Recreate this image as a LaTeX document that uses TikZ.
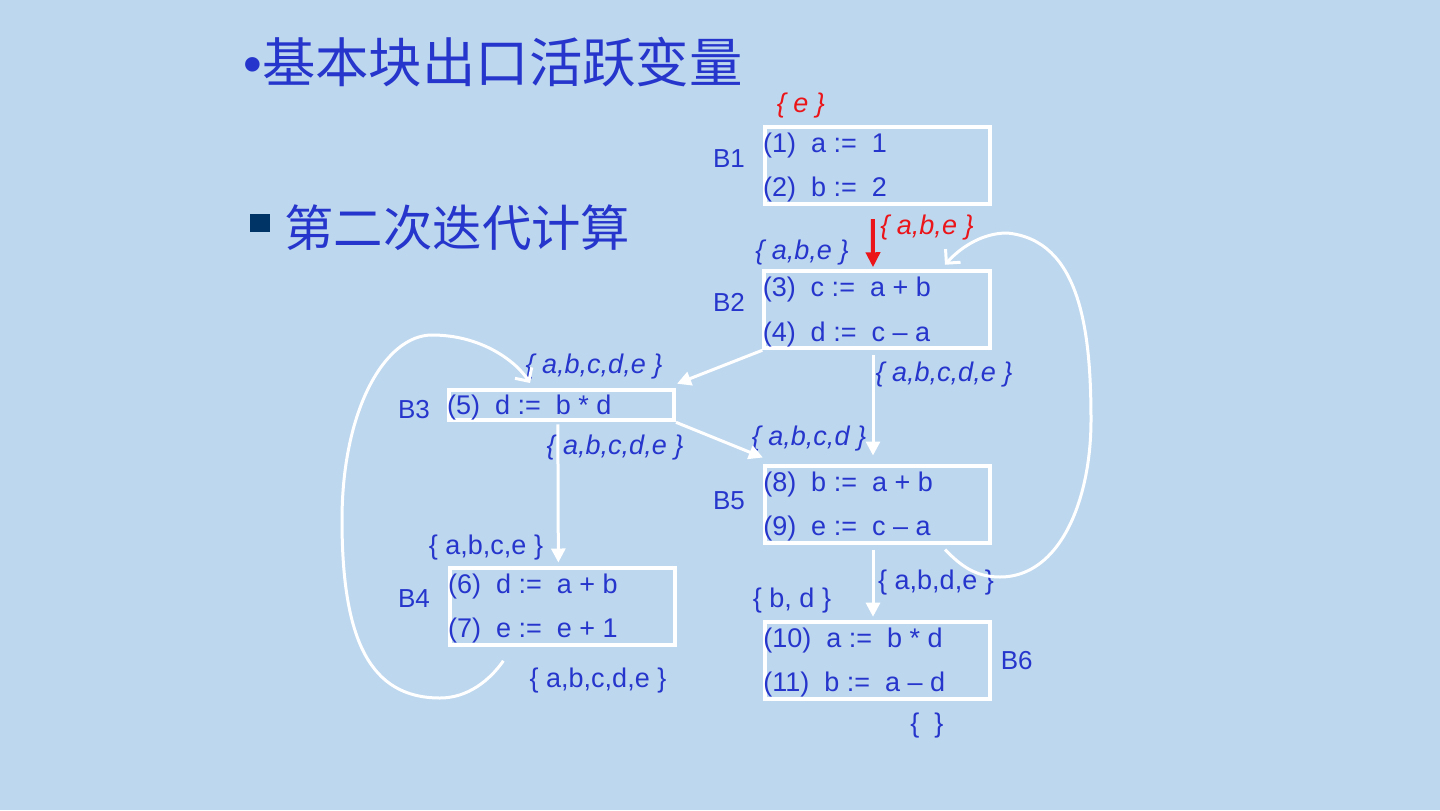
\documentclass[tikz,border=0pt]{standalone}
\usepackage{fontspec}
\setmainfont{Liberation Sans}
\newfontfamily\cjk{Noto Sans CJK SC}
\usetikzlibrary{arrows.meta,calc}

\definecolor{bgblue}{RGB}{189,215,238}
\definecolor{inkblue}{RGB}{38,54,204}
\definecolor{hotred}{RGB}{235,20,25}
\definecolor{navy}{RGB}{0,51,102}

\tikzset{
  blk/.style={draw=white, line width=2pt, minimum width=112.65pt, minimum height=38.5pt, inner sep=0pt},
  stmt/.style={anchor=base west, inner sep=0pt, text=inkblue, font=\fontsize{13.5}{16}\selectfont},
  lbl/.style={inner sep=0pt, text=inkblue, font=\fontsize{13}{15}\selectfont},
  lv/.style={inner sep=0pt, text=inkblue, font=\fontsize{13.5}{16}\selectfont},
  lvi/.style={lv, font=\fontsize{13.5}{16}\selectfont\itshape},
  flow/.style={white, line width=1.5pt, -{Triangle[length=7pt,width=7pt]}},
  back/.style={white, line width=1.5pt, -{Straight Barb[length=5pt,width=10pt]}},
}

\begin{document}
\begin{tikzpicture}[x=0.5pt,y=-0.5pt]
\fill[bgblue] (0,0) rectangle (1440,810);

% headings
\node[anchor=west, inner sep=0pt, text=inkblue, font=\fontsize{26.7}{32}\selectfont] (title) at (243,62) {•{\cjk 基本块出口活跃变量}};
\node[fill=navy, minimum width=10pt, minimum height=9pt, inner sep=0pt] (mark) at (260,222.5) {};
\node[anchor=west, inner sep=0pt, text=inkblue, font=\fontsize{24.7}{30}\selectfont\cjk] (sub) at (284,227.5) {第二次迭代计算};

% basic blocks
\node[blk] (B1) at (877.35,165) {};
\node[blk] (B2) at (877,309.75) {};
\node[blk, minimum height=15.3pt] (B3) at (561.35,405) {};
\node[blk] (B4) at (562.35,606) {};
\node[blk] (B5) at (877.5,504) {};
\node[blk] (B6) at (877.5,660.2) {};

\node[stmt] (s1) at ($(B1.north west)+(0,27.5)$) {(1)\ \ a :=\ \ 1};
\node[stmt] (s2) at ($(B1.north west)+(0,72)$) {(2)\ \ b :=\ \ 2};
\node[stmt] (s3) at ($(B2.north west)+(0,27.5)$) {(3)\ \ c :=\ \ a + b};
\node[stmt] (s4) at ($(B2.north west)+(0,72)$) {(4)\ \ d :=\ \ c – a};
\node[stmt] (s5) at ($(B3.north west)+(0,26.5)$) {(5)\ \ d :=\ \ b * d};
\node[stmt] (s6) at ($(B4.north west)+(0,27.5)$) {(6)\ \ d :=\ \ a + b};
\node[stmt] (s7) at ($(B4.north west)+(0,72)$) {(7)\ \ e :=\ \ e + 1};
\node[stmt] (s8) at ($(B5.north west)+(0,27.5)$) {(8)\ \ b :=\ \ a + b};
\node[stmt] (s9) at ($(B5.north west)+(0,72)$) {(9)\ \ e :=\ \ c – a};
\node[stmt] (s10) at ($(B6.north west)+(0,27.5)$) {(10)\ \ a :=\ \ b * d};
\node[stmt] (s11) at ($(B6.north west)+(0,72)$) {(11)\ \ b :=\ \ a – d};

\node[lbl] (L1) at (729,158.3) {B1};
\node[lbl] (L2) at (729,302.5) {B2};
\node[lbl] (L3) at (414,409.5) {B3};
\node[lbl] (L4) at (414,599) {B4};
\node[lbl] (L5) at (729,501) {B5};
\node[lbl] (L6) at (1016.7,661) {B6};

% live sets
\node[lvi, text=hotred] (in1) at (801,106) {\{ e \}};
\node[lvi, text=hotred] (out1) at (927,228) {\{ a,b,e \}};
\node[lvi] (in2) at (802,253) {\{ a,b,e \}};
\node[lvi] (in3) at (594,367) {\{ a,b,c,d,e \}};
\node[lvi] (out2) at (944,375) {\{ a,b,c,d,e \}};
\node[lvi] (out3) at (615,447.5) {\{ a,b,c,d,e \}};
\node[lvi] (in5) at (809,439) {\{ a,b,c,d \}};
\node[lv] (in4) at (486,548) {\{ a,b,c,e \}};
\node[lv] (out5) at (936,583) {\{ a,b,d,e \}};
\node[lv] (in6) at (792,601) {\{ b, d \}};
\node[lv] (out4) at (598,681) {\{ a,b,c,d,e \}};
\node[lv] (out6) at (927,726) {\{\ \ \}};

% flow edges
\draw[hotred, line width=2pt, -{Triangle[length=7.5pt,width=7pt]}] ($(B1.south)+(-4.5,13.5)$) -- ($(B2.north)+(-4,-2)$);
\draw[flow] (B2.south west) -- ($(B3.north east)+(1,-4)$);
\draw[flow] ($(B2.south)+(-4,5)$) -- ($(B5.north)+(-4.5,-8)$);
\draw[flow] (B3.south east) -- ($(B5.north west)+(0,-6)$);
\draw[flow] ($(B3.south)+(-3.5,2)$) -- ($(B4.north)+(-4,-3)$);
\draw[flow] ($(B5.south)+(-4.5,5)$) -- ($(B6.north)+(-4.5,-3)$);

% back edges
\draw[back] ($(B5.south)+(67.5,5)$) .. controls (960,565) and (975,577) .. (1000,577)
  .. controls (1060,577) and (1091,500) .. (1091,420)
  .. controls (1091,330) and (1080,240) .. (1007,233)
  .. controls (980,233) and (958,250) .. ($(B2.north)+(68,-4.5)$);
\draw[back] ($(B4.south)+(-59,14.3)$) .. controls (490,680) and (468,698) .. (440,698)
  .. controls (370,698) and (342,640) .. (342,520)
  .. controls (342,410) and (385,335) .. (432,335)
  .. controls (480,335) and (515,360) .. ($(B3.north)+(-31.35,-4.7)$);
\end{tikzpicture}
\end{document}
